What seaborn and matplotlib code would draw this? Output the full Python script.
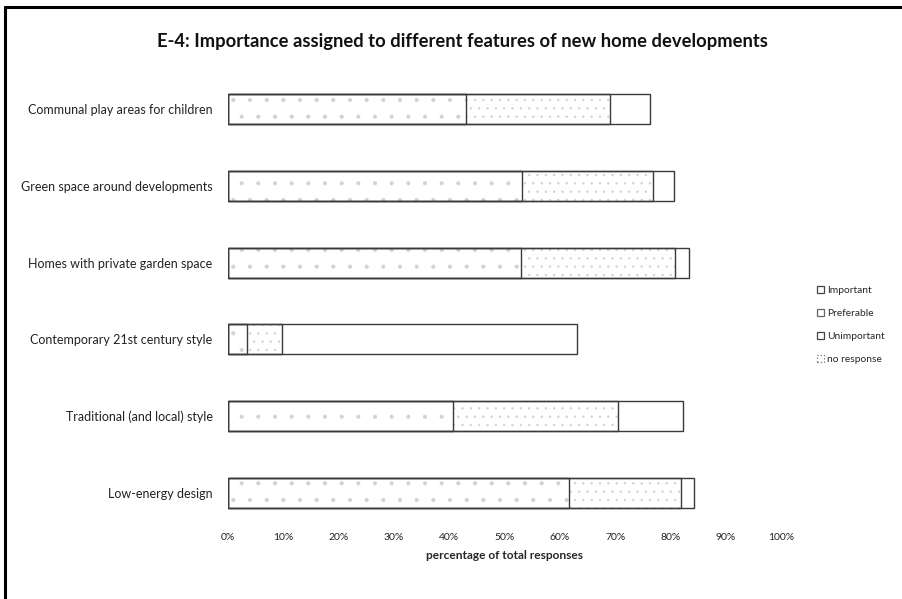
"""E-4 chart: importance assigned to features of new home developments.

Stacked horizontal bars drawn with seaborn by overlaying cumulative totals.
"""

import numpy as np
import pandas as pd
import matplotlib
matplotlib.use("Agg")
import matplotlib.pyplot as plt
from matplotlib.patches import Patch, Rectangle
from matplotlib.lines import Line2D
import seaborn as sns

# --- data (percent of total responses) ---
features = [
    "Communal play areas for children",
    "Green space around developments",
    "Homes with private garden space",
    "Contemporary 21st century style",
    "Traditional (and local) style",
    "Low-energy design",
]
important = [43.1, 53.1, 52.9, 3.4, 40.6, 61.6]
preferable = [25.9, 23.7, 27.9, 6.4, 29.9, 20.3]
unimportant = [7.4, 3.8, 2.5, 53.4, 11.7, 2.3]
no_response = [23.6, 19.4, 16.7, 36.8, 17.8, 15.8]

series_names = ["Important", "Preferable", "Unimportant", "no response"]
tick_values = [0, 10, 20, 30, 40, 50, 60, 70, 80, 90, 100]
tick_labels = [f"{v}%" for v in tick_values]

title = "E-4: Importance assigned to different features of new home developments"
xlabel = "percentage of total responses"


def main() -> None:
    sns.set_style("white")
    plt.rcParams["font.family"] = ["Lato", "DejaVu Sans"]
    plt.rcParams["hatch.linewidth"] = 0.5

    df = pd.DataFrame(
        {
            "feature": features,
            "Important": important,
            "Preferable": preferable,
            "Unimportant": unimportant,
            "no response": no_response,
        }
    )
    # cumulative ends of each segment
    cum = df[series_names].cumsum(axis=1)
    cum["feature"] = df["feature"]

    fig = plt.figure(figsize=(9.03, 5.99), dpi=100)
    W, H = 903, 599
    ax = fig.add_axes([228 / W, 1 - 520 / H, (781 - 228) / W, (520 - 75) / H])

    # draw longest first, shorter ones on top
    hatches = {"no response": "", "Unimportant": "", "Preferable": "..", "Important": "."}
    for name in ["no response", "Unimportant", "Preferable", "Important"]:
        n_before = len(ax.patches)
        sns.barplot(
            data=cum, x=name, y="feature", orient="h", color="white",
            width=0.39, ax=ax, linewidth=0, edgecolor="none",
        )
        if name == "no response":
            continue
        for p in list(ax.patches[n_before:]):
            # faint dotted fill, then a dark outline on top of it
            if hatches[name]:
                p.set_hatch(hatches[name])
                p.set_edgecolor("#d2d2d2")
                p.set_linewidth(0)
            outline = Rectangle(p.get_xy(), p.get_width(), p.get_height(),
                                fill=False, edgecolor="#3a3a3a", linewidth=1.0,
                                zorder=p.get_zorder() + 0.01)
            ax.add_artist(outline)

    ax.set_xlim(0, 100)
    ax.set_ylim(5.352, -0.443)
    ax.set_xticks(tick_values)
    ax.set_xticklabels(tick_labels, fontsize=7.5, color="#222222")
    ax.tick_params(axis="x", length=0, pad=9)
    ax.tick_params(axis="y", length=0, pad=11, labelsize=9, labelcolor="#222222")
    ax.set_ylabel("")
    ax.set_xlabel(xlabel, fontsize=8.6, fontweight="bold", labelpad=6)
    sns.despine(ax=ax, left=True, bottom=True)
    ax.patch.set_alpha(0)

    fig.text(462 / W, 1 - 42 / H, title, ha="center", va="center",
             fontsize=13.2, fontweight="bold", color="#111111")

    handles = [
        Patch(facecolor="white", edgecolor="#444444", linewidth=0.9),
        Patch(facecolor="white", edgecolor="#666666", linewidth=0.9),
        Patch(facecolor="white", edgecolor="#444444", linewidth=0.9),
        Patch(facecolor="white", edgecolor="#777777", linewidth=0.9, linestyle=":"),
    ]
    fig.legend(
        handles, series_names, loc="center left",
        bbox_to_anchor=(812 / W, 1 - 325 / H), frameon=False,
        fontsize=7.4, handlelength=0.7, handleheight=0.7,
        handletextpad=0.3, labelspacing=1.35, borderpad=0,
    )

    # outer frame (top and left edges only, as in the source)
    fig.add_artist(Line2D([5 / W, 1], [1 - 7 / H, 1 - 7 / H],
                          transform=fig.transFigure, color="black", linewidth=2.2))
    fig.add_artist(Line2D([5 / W, 5 / W], [0, 1 - 7 / H],
                          transform=fig.transFigure, color="black", linewidth=2.2))

    fig.savefig("out.png", dpi=100)


if __name__ == "__main__":
    main()
